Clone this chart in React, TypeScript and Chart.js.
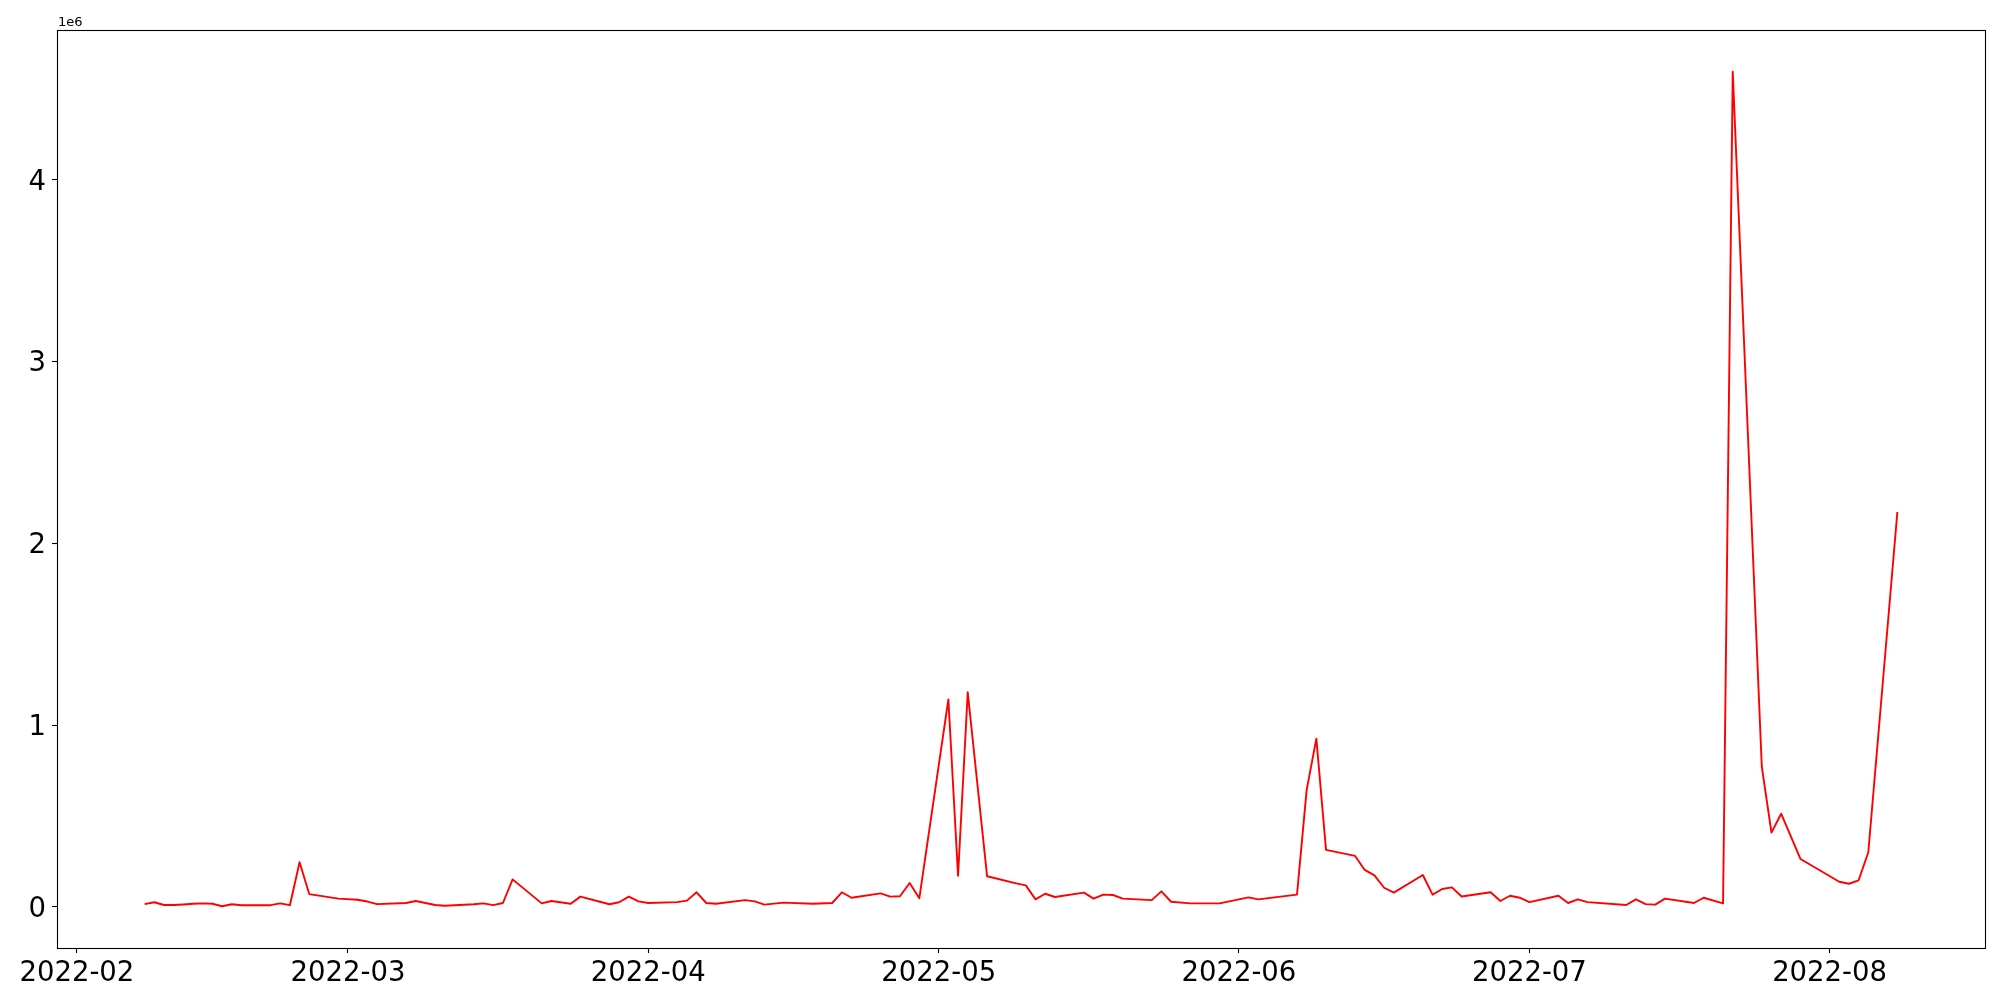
import React, { useEffect, useRef } from "react";
import { Chart, registerables } from "chart.js";

Chart.register(...registerables);

const dates: string[] = [
  "2022-02-08", "2022-02-09", "2022-02-10", "2022-02-11", "2022-02-12", "2022-02-13", "2022-02-14",
  "2022-02-15", "2022-02-16", "2022-02-17", "2022-02-18", "2022-02-19", "2022-02-20", "2022-02-21",
  "2022-02-22", "2022-02-23", "2022-02-24", "2022-02-25", "2022-02-28", "2022-03-02", "2022-03-03",
  "2022-03-04", "2022-03-07", "2022-03-08", "2022-03-10", "2022-03-11", "2022-03-14", "2022-03-15",
  "2022-03-16", "2022-03-17", "2022-03-18", "2022-03-21", "2022-03-22", "2022-03-24", "2022-03-25",
  "2022-03-28", "2022-03-29", "2022-03-30", "2022-03-31", "2022-04-01", "2022-04-04", "2022-04-05",
  "2022-04-06", "2022-04-07", "2022-04-08", "2022-04-11", "2022-04-12", "2022-04-13", "2022-04-15",
  "2022-04-18", "2022-04-20", "2022-04-21", "2022-04-22", "2022-04-25", "2022-04-26", "2022-04-27",
  "2022-04-28", "2022-04-29", "2022-05-02", "2022-05-03", "2022-05-04", "2022-05-06", "2022-05-09",
  "2022-05-10", "2022-05-11", "2022-05-12", "2022-05-13", "2022-05-16", "2022-05-17", "2022-05-18",
  "2022-05-19", "2022-05-20", "2022-05-23", "2022-05-24", "2022-05-25", "2022-05-27", "2022-05-30",
  "2022-06-02", "2022-06-03", "2022-06-07", "2022-06-08", "2022-06-09", "2022-06-10", "2022-06-13",
  "2022-06-14", "2022-06-15", "2022-06-16", "2022-06-17", "2022-06-20", "2022-06-21", "2022-06-22",
  "2022-06-23", "2022-06-24", "2022-06-27", "2022-06-28", "2022-06-29", "2022-06-30", "2022-07-01",
  "2022-07-04", "2022-07-05", "2022-07-06", "2022-07-07", "2022-07-11", "2022-07-12", "2022-07-13",
  "2022-07-14", "2022-07-15", "2022-07-18", "2022-07-19", "2022-07-21", "2022-07-22", "2022-07-25",
  "2022-07-26", "2022-07-27", "2022-07-29", "2022-08-02", "2022-08-03", "2022-08-04", "2022-08-05",
  "2022-08-08",
];

const values: number[] = [
  16000, 26000, 11000, 11000, 14000, 18000, 20000,
  18000, 4000, 15000, 10000, 10000, 10000, 10000,
  20000, 10000, 246000, 71000, 46000, 40000, 30000,
  16000, 22000, 33000, 11000, 7000, 15000, 20000,
  10000, 22000, 152000, 20000, 33000, 18000, 57000,
  15000, 26000, 57000, 31000, 22000, 27000, 35000,
  81000, 22000, 18000, 38000, 31000, 13000, 24000,
  18000, 22000, 81000, 51000, 75000, 57000, 59000,
  132000, 48000, 1142000, 172000, 1181000, 169000, 130000,
  119000, 42000, 73000, 55000, 79000, 46000, 68000,
  66000, 46000, 38000, 86000, 29000, 20000, 20000,
  53000, 42000, 68000, 644000, 926000, 314000, 281000,
  204000, 174000, 106000, 79000, 176000, 68000, 99000,
  108000, 58000, 81000, 33000, 62000, 51000, 27000,
  62000, 22000, 42000, 27000, 11000, 42000, 16000,
  13000, 46000, 22000, 51000, 20000, 4595000, 772000,
  409000, 513000, 264000, 139000, 128000, 147000, 301000,
  2173000,
];

const xTickDates: string[] = [
  "2022-02-01", "2022-03-01", "2022-04-01", "2022-05-01", "2022-06-01", "2022-07-01", "2022-08-01",
];
const yTickValues: number[] = [0, 1e6, 2e6, 3e6, 4e6];
const yOffsetLabel = "1e6";

const FONT = "'DejaVu Sans', sans-serif";

export default function App() {
  const ref = useRef<HTMLCanvasElement | null>(null);

  useEffect(() => {
    const canvas = ref.current;
    if (!canvas) return;
    const xs = dates.map((d) => Date.parse(d + "T00:00:00Z"));
    const pts = xs.map((x, i) => ({ x, y: values[i] }));
    const xMin0 = Math.min(...xs);
    const xMax0 = Math.max(...xs);
    const xr = xMax0 - xMin0;
    const yMin0 = Math.min(...values);
    const yMax0 = Math.max(...values);
    const yr = yMax0 - yMin0;
    const xTicks = xTickDates.map((d) => Date.parse(d + "T00:00:00Z"));

    const framePlugin = {
      id: "frame",
      afterDraw(chart: any) {
        const { ctx, chartArea } = chart;
        ctx.save();
        ctx.strokeStyle = "#000";
        ctx.lineWidth = 1.1;
        ctx.strokeRect(
          Math.round(chartArea.left) + 0.5,
          Math.round(chartArea.top) + 0.5,
          Math.round(chartArea.right - chartArea.left),
          Math.round(chartArea.bottom - chartArea.top)
        );
        ctx.fillStyle = "#000";
        ctx.font = "13px " + FONT;
        ctx.textAlign = "left";
        ctx.textBaseline = "alphabetic";
        ctx.fillText(yOffsetLabel, chartArea.left + 1, chartArea.top - 4);
        ctx.restore();
      },
    };

    const chart = new Chart(canvas, {
      type: "line",
      data: {
        datasets: [
          {
            data: pts,
            borderColor: "#ff0000",
            backgroundColor: "#ff0000",
            borderWidth: 1.9,
            pointRadius: 0,
            tension: 0,
            borderJoinStyle: "round",
            fill: false,
          },
        ],
      },
      options: {
        animation: false,
        responsive: false,
        devicePixelRatio: 1,
        parsing: true,
        layout: { padding: { left: 0, top: 30, right: 15, bottom: 0 } },
        plugins: { legend: { display: false }, tooltip: { enabled: false }, title: { display: false } },
        scales: {
          x: {
            type: "linear",
            min: xMin0 - 0.05 * xr,
            max: xMax0 + 0.05 * xr,
            afterBuildTicks: (s: any) => {
              s.ticks = xTicks.map((v) => ({ value: v }));
            },
            afterFit: (s: any) => {
              s.height = 52;
            },
            ticks: {
              autoSkip: false,
              maxRotation: 0,
              minRotation: 0,
              padding: 4,
              color: "#000",
              font: { family: FONT, size: 27.5 },
              callback: (v: any) => {
                const d = new Date(Number(v));
                const m = d.getUTCMonth() + 1;
                return d.getUTCFullYear() + "-" + (m < 10 ? "0" + m : "" + m);
              },
            },
            grid: { drawOnChartArea: false, drawTicks: true, tickLength: 5, color: "#000", tickWidth: 1.1 },
            border: { display: false },
          },
          y: {
            type: "linear",
            min: yMin0 - 0.05 * yr,
            max: yMax0 + 0.05 * yr,
            afterBuildTicks: (s: any) => {
              s.ticks = yTickValues.map((v) => ({ value: v }));
            },
            afterFit: (s: any) => {
              s.width = 57;
            },
            ticks: {
              padding: 6,
              labelOffset: 2.5,
              color: "#000",
              font: { family: FONT, size: 27.5 },
              callback: (v: any) => String(Math.round(Number(v) / 1e6)),
            },
            grid: { drawOnChartArea: false, drawTicks: true, tickLength: 5, color: "#000", tickWidth: 1.1 },
            border: { display: false },
          },
        },
      },
      plugins: [framePlugin],
    } as any);

    return () => chart.destroy();
  }, []);

  return (
    <div style={{ position: "fixed", left: 0, top: 0, width: 2000, height: 1000, background: "#fff" }}>
      <canvas ref={ref} width={2000} height={1000} style={{ width: 2000, height: 1000, display: "block" }} />
    </div>
  );
}
